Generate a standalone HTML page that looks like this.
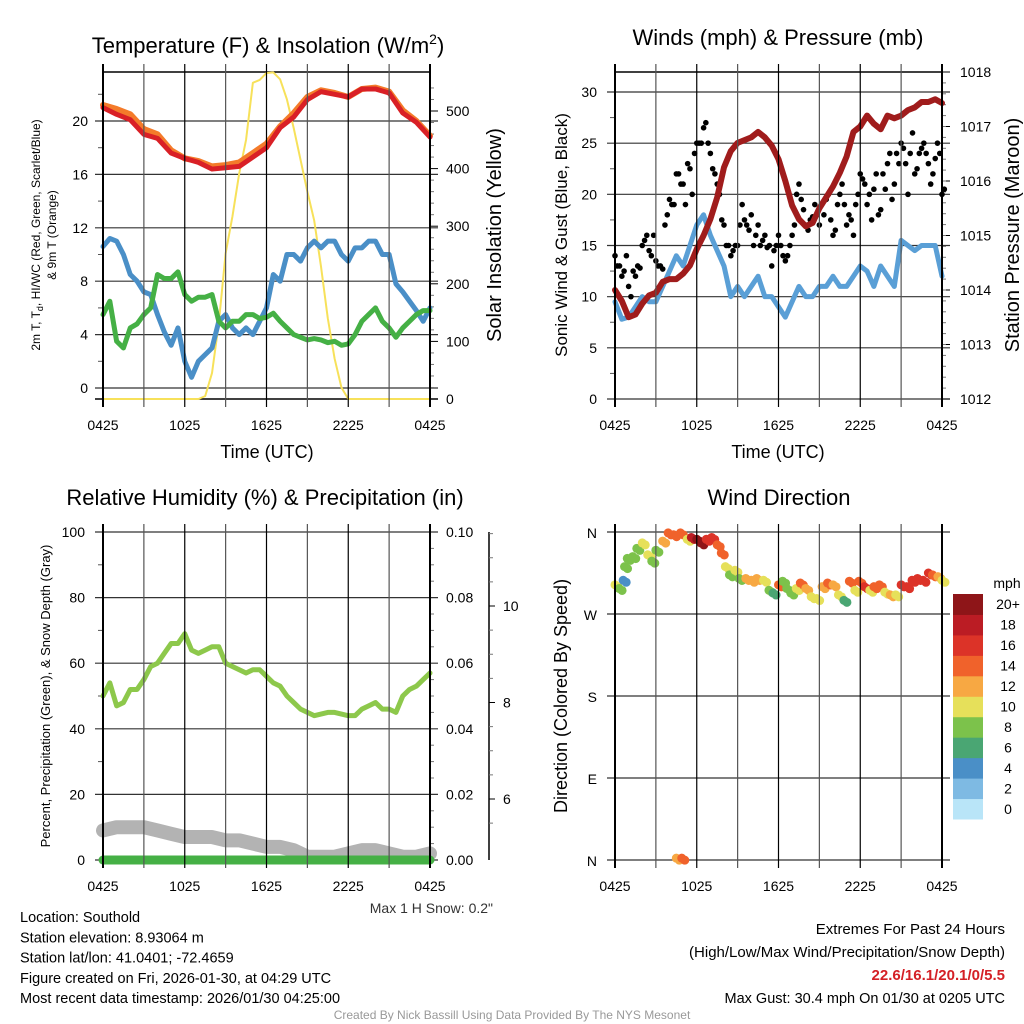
<!DOCTYPE html>
<html><head><meta charset="utf-8">
<style>
html,body{margin:0;padding:0;background:#fff;}
svg{display:block;font-family:"Liberation Sans",Arial,sans-serif;}
</style></head>
<body>
<svg id="chart" width="1024" height="1024" viewBox="0 0 1024 1024"></svg>
<script>
// ---------- DATA ----------
const timeTickLabels = ["0425","1025","1625","2225","0425"];
// Panel 1 temperatures (F), hourly 0..24
const temp2m = [21.0,20.5,20.1,19.0,18.7,17.6,17.2,16.9,16.4,16.5,16.6,17.3,18.0,19.5,20.3,21.6,22.2,22.0,21.8,22.4,22.4,22.1,20.6,19.9,18.8];
const temp9m = [21.2,20.9,20.5,19.4,19.0,17.8,17.2,17.0,16.6,16.7,16.9,17.6,18.3,19.6,20.6,21.8,22.3,22.1,21.8,22.4,22.5,22.2,20.8,20.0,18.9];
// half-hourly 0..24
const windChill = [10.6,11.2,11.0,10.0,8.5,8.0,7.2,7.0,5.5,4.2,3.2,4.5,2.0,0.8,2.0,2.5,3.0,5.0,5.5,4.5,4.0,4.5,4.0,5.0,6.0,8.5,8.0,10.0,10.0,9.5,10.5,11.0,10.5,11.0,11.0,10.0,9.5,10.5,10.5,11.0,11.0,10.0,10.0,7.8,7.2,6.5,5.8,5.0,6.0];
const dewPoint = [5.5,6.5,3.5,3.0,4.5,4.8,5.5,6.0,8.5,8.2,8.2,8.7,7.0,6.5,6.8,6.8,7.0,5.0,4.5,5.0,5.0,5.5,5.5,5.2,5.3,5.6,5.0,4.5,4.0,3.8,3.6,3.7,3.6,3.4,3.5,3.2,3.3,4.0,5.0,5.5,6.0,5.0,4.5,3.8,4.5,5.0,5.5,5.8,5.8];
const insolation = [0,0,0,0,0,0,0,0,0,0,0,0,0,0,0,5,45,132,253,317,392,450,549,554,566,567,555,520,470,415,360,310,230,140,70,20,0,0,0,0,0,0,0,0,0,0,0,0,0];
const tempTicks = [0,4,8,12,16,20];
const insolTicks = [0,100,200,300,400,500];
// Panel 2 winds
const sonicWind = [9.5,7.8,8,9,10,9.5,9.5,11,12.5,14,13,15,17,18,16,14.5,13,10,11,10,11,12,10,10,9,8,9.5,11,10,10,11,11,12,11,11,12,13,12.5,11,13,12,11,15.5,15,14.5,15,15,15,12];
const pressure = [1014.0,1013.8,1013.5,1013.55,1013.75,1013.9,1013.95,1014.15,1014.2,1014.2,1014.3,1014.45,1014.75,1015.0,1015.3,1015.7,1016.25,1016.55,1016.7,1016.75,1016.8,1016.9,1016.8,1016.65,1016.4,1016.0,1015.55,1015.3,1015.17,1015.23,1015.5,1015.7,1015.9,1016.15,1016.45,1016.9,1017.0,1017.2,1017.05,1016.95,1017.2,1017.15,1017.2,1017.3,1017.35,1017.45,1017.45,1017.5,1017.43];
// gust every 20 minutes
const gusts = [14,13,12.5,11,12.5,13,15,16,14,13.5,13,17,19.5,19,22,21,23,20,25,25,27,24,22,20,17,15,14.5,15,19,17,18,16,15,16,15,14.5,16,14,14,16,20,19.5,17,17.5,19,17,18,20,16,19,21,17,17.5,19,22,21,20,20.5,18,22,23,19.5,24,25,23,24,22,24,25,23,22,25,20];
const gusts2 = [13,12,14,10,12,12.8,15.5,14.5,16,13,12.7,18,19,22,21,19,22.5,24,25,26.5,25,22.5,21,17.5,15,14,15,17,17.5,16.5,15,17,15.5,14.8,13,15,15,13.5,15,17,21,18.5,16.5,17.8,18,19,19.5,17.5,16.5,20,19,18,16,20,21.5,19,17.5,22,18.5,20.5,24,21,23,24.5,20,26,22.5,24.5,24,21,23.5,24,20.5];
const windTicks = [0,5,10,15,20,25,30];
const pressTicks = [1012,1013,1014,1015,1016,1017,1018];
// Panel 3
const relHumidity = [50,54,47,48,52,52,55,59,60,63,66,66,69,64,63,64,65,65,60,59,58,57,58,58,56,54,53,50,48,46,45,44,44.5,45,45,44.5,44,44,46,47,48,46,46,45,50,52,53,55,57];
const snowDepth = [9,10,10,10,9,8,7,7,7,6,6,5,4,4,3,1,1,1,2,3,3,2,1,1,2];
const precip = [0,0,0,0,0,0,0,0,0,0,0,0,0,0,0,0,0,0,0,0,0,0,0,0,0];
const rhTicks = [0,20,40,60,80,100];
const precipTicks = ["0.00","0.02","0.04","0.06","0.08","0.10"];
const snowTicks = [6,8,10];
// Panel 4 wind direction
const dirHours = [0.0,0.3,0.6,0.7,0.9,1.3,1.6,2.0,2.4,2.7,3.0,3.5,3.9,4.3,4.8,5.3,5.6,6.0,6.3,6.7,7.1,7.5,7.8,8.1,8.4,8.8,9.1,9.6,10.0,10.4,10.9,11.3,11.6,12.0,12.3,12.6,12.9,13.3,13.6,14.0,14.4,14.8,15.2,15.6,16.0,16.4,16.8,17.2,17.6,17.9,18.3,18.7,19.0,19.4,19.8,20.2,20.6,21.0,21.4,21.8,22.2,22.6,23.0,23.3,23.7,24.0,4.5,4.9];
const dirDegrees = [302,298,307,322,331,333,342,348,335,328,340,350,359,357,359,352,354,352,348,352,354,346,337,322,313,318,309,309,307,309,307,296,293,302,306,298,293,298,304,298,289,287,300,304,302,291,285,306,296,306,300,296,300,302,294,291,291,302,300,307,309,307,315,313,311,307,2,2];
const dirSpeeds = [10,8,5,8,8,8,8,10,10,8,8,12,14,14,14,10,18,20,20,16,16,14,14,10,8,10,8,12,12,12,10,8,6,14,8,8,8,10,14,12,10,10,12,14,12,10,6,14,10,14,16,10,14,14,10,12,10,16,16,16,16,16,16,14,12,10,12,14];
const dirTickLabels = ["N","E","S","W","N"];
const speedBinLabels = ["0","2","4","6","8","10","12","14","16","18","20+"];
const speedBinColors = ["#b9e5f8","#7ebae3","#4a8fc7","#4aa673","#7cc24b","#e6e05a","#f7a843","#f0622b","#dc3328","#bb1c24","#8e1518"];

// ---------- HELPERS ----------
const NS="http://www.w3.org/2000/svg";
const svg=document.getElementById('chart');
function mk(tag,attrs,parent,text){const e=document.createElementNS(NS,tag);for(const k in attrs)e.setAttribute(k,attrs[k]);if(text!==undefined)e.textContent=text;(parent||svg).appendChild(e);return e;}
function grp(name){const g=mk('g',{});return g;}
function lin(d0,d1,p0,p1){return v=>p0+(v-d0)/(d1-d0)*(p1-p0);}
function label(g,x,y,txt,size,anchor,name,extra){const t=mk('text',Object.assign({x:x,y:y,'font-size':size,'text-anchor':anchor||'middle',fill:'#000'},extra||{}),g,txt);return t;}

function frame(name,L,R,T,B,xs){
  const g=grp(name+'-frame');
  // vertical grid every 3h
  for(let h=0;h<=24;h+=3){const x=xs(h);mk('line',{x1:x,x2:x,y1:T-8,y2:B+8,stroke:(h%6===0?'#000':'#555'),'stroke-width':(h===0||h===24)?2:1.2},g);}
  timeTickLabels.forEach((s,i)=>{label(g,xs(i*6),B+31,s,14,'middle','x-tick-label');});
  return g;
}
function poly(g,xs,ys,xsArr,vals,color,w,name){
  const pts=vals.map((v,i)=>xs(xsArr(i))+','+ys(v)).join(' ');
  const p=mk('polyline',{points:pts,fill:'none',stroke:color,'stroke-width':w,'stroke-linejoin':'round','stroke-linecap':'round'},g);
  return p;
}
const hourly=i=>i, half=i=>i/2, third=i=>i/3;

// ---------- PANEL 1 ----------
(function(){
 const L=103,R=430,T=72,B=399;
 const xs=lin(0,24,L,R), ys=lin(0,20,388,121), yi=lin(0,500,399,111);
 const g=grp('temperature-panel');
 label(g,268,53,'Temperature (F) & Insolation (W/m',22,'middle','temperature-title').innerHTML='Temperature (F) &amp; Insolation (W/m<tspan dy="-9" font-size="14">2</tspan><tspan dy="9">)</tspan>';
 tempTicks.forEach(v=>{const y=ys(v);mk('line',{x1:95,x2:438,y1:y,y2:y,stroke:'#333','stroke-width':1.2},g);label(g,88,y+5,String(v),14,'end','temp-tick-label');});
 for(let v=2;v<24;v+=4){const y=ys(v);mk('line',{x1:98,x2:103,y1:y,y2:y,stroke:'#555'},g);}
 mk('line',{x1:95,x2:438,y1:B,y2:B,stroke:'#000','stroke-width':1.5},g);
 mk('line',{x1:L,x2:R,y1:T,y2:T,stroke:'#000','stroke-width':1.5},g);
 frame('temperature',L,R,T,B,xs);
 insolTicks.forEach(v=>{const y=yi(v);mk('line',{x1:R,x2:438,y1:y,y2:y,stroke:'#000'},g);label(g,446,y+5,String(v),14,'start','insolation-tick-label');});
 for(let v=20;v<560;v+=20){if(v%100){const y=yi(v);mk('line',{x1:R,x2:434,y1:y,y2:y,stroke:'#777'},g);}}
 poly(g,xs,yi,half,insolation,'#f7e15a',2,'insolation-line');
 poly(g,xs,ys,half,windChill,'#4a8fc7',5,'heat-index-wind-chill-line');
 poly(g,xs,ys,half,dewPoint,'#45b045',5,'dew-point-line');
 poly(g,xs,ys,hourly,temp9m,'#f47b2a',6,'temp-9m-line');
 poly(g,xs,ys,hourly,temp2m,'#d92026',5,'temp-2m-line');
 label(g,267,458,'Time (UTC)',18,'middle','x-axis-title');
 const t1=label(g,0,0,'',12,'middle','temp-y-axis-title',{transform:'translate(40,235) rotate(-90)'});
 t1.innerHTML='2m T, T<tspan dy="3" font-size="9">d</tspan><tspan dy="-3">, HI/WC (Red, Green, Scarlet/Blue)</tspan>';
 label(g,0,0,'& 9m T (Orange)',12,'middle','temp-y-axis-title-2',{transform:'translate(56,235) rotate(-90)'});
 label(g,0,0,'Solar Insolation (Yellow)',20,'middle','insolation-y-axis-title',{transform:'translate(501,235) rotate(-90)'});
})();

// ---------- PANEL 2 ----------
(function(){
 const L=615,R=942,T=72,B=399;
 const xs=lin(0,24,L,R), ys=lin(0,30,399,92), yp=lin(1012,1018,399,72);
 const g=grp('winds-panel');
 label(g,778,45,'Winds (mph) & Pressure (mb)',22,'middle','winds-title');
 windTicks.forEach(v=>{const y=ys(v);mk('line',{x1:607,x2:950,y1:y,y2:y,stroke:'#333','stroke-width':1.2},g);label(g,597,y+5,String(v),14,'end','wind-tick-label');});
 for(let v=2.5;v<32;v+=5){const y=ys(v);mk('line',{x1:610,x2:615,y1:y,y2:y,stroke:'#555'},g);}
 mk('line',{x1:L,x2:R,y1:T,y2:T,stroke:'#000','stroke-width':1.5},g);
 frame('winds',L,R,T,B,xs);
 pressTicks.forEach(v=>{const y=yp(v);mk('line',{x1:R,x2:950,y1:y,y2:y,stroke:'#000'},g);label(g,960,y+5,String(v),14,'start','pressure-tick-label');});
 for(let v=1012.2;v<1018;v+=0.2){const y=yp(v);mk('line',{x1:R,x2:946,y1:y,y2:y,stroke:'#777'},g);}
 poly(g,xs,ys,half,sonicWind,'#5a9fd6',5,'sonic-wind-line');
 [gusts,gusts2].forEach((arr,k)=>{arr.forEach((v,i)=>{const c=mk('circle',{cx:xs(i/3+k*0.17),cy:ys(v),r:2.8,fill:'#000'},g);
   
   });});
 poly(g,xs,yp,half,pressure,'#a01c1c',6,'pressure-line');
 label(g,778,458,'Time (UTC)',18,'middle','x-axis-title');
 label(g,0,0,'Sonic Wind & Gust (Blue, Black)',17,'middle','wind-y-axis-title',{transform:'translate(567,235) rotate(-90)'});
 label(g,0,0,'Station Pressure (Maroon)',20,'middle','pressure-y-axis-title',{transform:'translate(1019,235) rotate(-90)'});
})();

// ---------- PANEL 3 ----------
(function(){
 const L=103,R=430,T=532,B=860;
 const xs=lin(0,24,L,R), ys=lin(0,100,860,532);
 const g=grp('humidity-panel');
 label(g,265,505,'Relative Humidity (%) & Precipitation (in)',22,'middle','humidity-title');
 rhTicks.forEach((v,i)=>{const y=ys(v);mk('line',{x1:95,x2:438,y1:y,y2:y,stroke:'#333','stroke-width':1.2},g);label(g,85,y+5,String(v),14,'end','rh-tick-label');label(g,446,y+5,precipTicks[i],14,'start','precip-tick-label');});
 for(let v=10;v<100;v+=20){const y=ys(v);mk('line',{x1:98,x2:103,y1:y,y2:y,stroke:'#555'},g);}
 for(let v=5;v<100;v+=5){if(v%20){const y=ys(v);mk('line',{x1:R,x2:434,y1:y,y2:y,stroke:'#777'},g);}}
 frame('humidity',L,R,T,B,xs);
 // snow axis
 mk('line',{x1:489,x2:489,y1:532,y2:860,stroke:'#000','stroke-width':1.5},g);
 const ysn=lin(6,10,799,606);
 snowTicks.forEach(v=>{const y=ysn(v);mk('line',{x1:489,x2:495,y1:y,y2:y,stroke:'#000'},g);label(g,503,y+5,String(v),14,'start','snow-tick-label');});
 for(let v=5.5;v<11.7;v+=0.5){if(v%2){const y=ysn(v);mk('line',{x1:489,x2:493,y1:y,y2:y,stroke:'#777'},g);}}
 poly(g,xs,ys,hourly,snowDepth,'#b3b3b3',14,'snow-depth-line');
 poly(g,xs,ys,hourly,precip,'#45b045',9,'precipitation-line');
 poly(g,xs,ys,half,relHumidity,'#8dc84b',5,'relative-humidity-line');
 label(g,0,0,'Percent, Precipitation (Green), & Snow Depth (Gray)',13,'middle','rh-y-axis-title',{transform:'translate(50,696) rotate(-90)'});
 label(g,493,913,'Max 1 H Snow: 0.2"',14,'end','max-snow-note',{fill:'#333'});
})();

// ---------- PANEL 4 ----------
(function(){
 const L=615,R=942,T=532,B=860;
 const xs=lin(0,24,L,R), yd=lin(0,360,860,532);
 const g=grp('wind-direction-panel');
 label(g,779,505,'Wind Direction',22,'middle','wind-direction-title');
 dirTickLabels.forEach((s,i)=>{const y=yd(i*90);mk('line',{x1:607,x2:950,y1:y,y2:y,stroke:'#333','stroke-width':1.2},g);label(g,597,y+6,s,14,'end','direction-tick-label');});
 frame('wind-direction',L,R,T,B,xs);
 const binOf=s=>Math.min(10,Math.floor(s/2));
 dirHours.forEach((h,i)=>{const c=mk('circle',{cx:xs(h),cy:yd(dirDegrees[i]),r:4.5,fill:speedBinColors[binOf(dirSpeeds[i])]},g);
   
   
   const c2=mk('circle',{cx:xs(h)+3,cy:yd(dirDegrees[i])+2,r:4.5,fill:speedBinColors[binOf(dirSpeeds[i])]},g);
   
   });
 label(g,0,0,'Direction (Colored By Speed)',18,'middle','direction-y-axis-title',{transform:'translate(567,696) rotate(-90)'});
 const lg=grp('speed-legend');
 label(lg,1007,588,'mph',14,'middle','legend-title');
 const h=225/11;
 speedBinColors.forEach((c,i)=>{const y=819-(i+1)*h;const r=mk('rect',{x:953,y:y,width:30,height:h+0.5,fill:c},lg);
  
  
  label(lg,1008,y+h/2+5,speedBinLabels[i],14,'middle','legend-label');});
})();

// ---------- FOOTER ----------
(function(){
 const g=grp('footer');
 const left=['Location: Southold','Station elevation: 8.93064 m','Station lat/lon: 41.0401; -72.4659','Figure created on Fri, 2026-01-30, at 04:29 UTC','Most recent data timestamp: 2026/01/30 04:25:00'];
 left.forEach((s,i)=>label(g,20,922+i*20.3,s,14.5,'start','station-info-line'));
 label(g,1005,934,'Extremes For Past 24 Hours',15,'end','extremes-title');
 label(g,1005,957,'(High/Low/Max Wind/Precipitation/Snow Depth)',15,'end','extremes-subtitle');
 label(g,1005,980,'22.6/16.1/20.1/0/5.5',15,'end','extremes-values',{fill:'#d42026','font-weight':'bold'});
 label(g,1005,1003,'Max Gust: 30.4 mph On 01/30 at 0205 UTC',14.5,'end','max-gust-note');
 label(g,512,1019,'Created By Nick Bassill Using Data Provided By The NYS Mesonet',12,'middle','credit-line',{fill:'#999'});
})();
</script>
</body></html>
